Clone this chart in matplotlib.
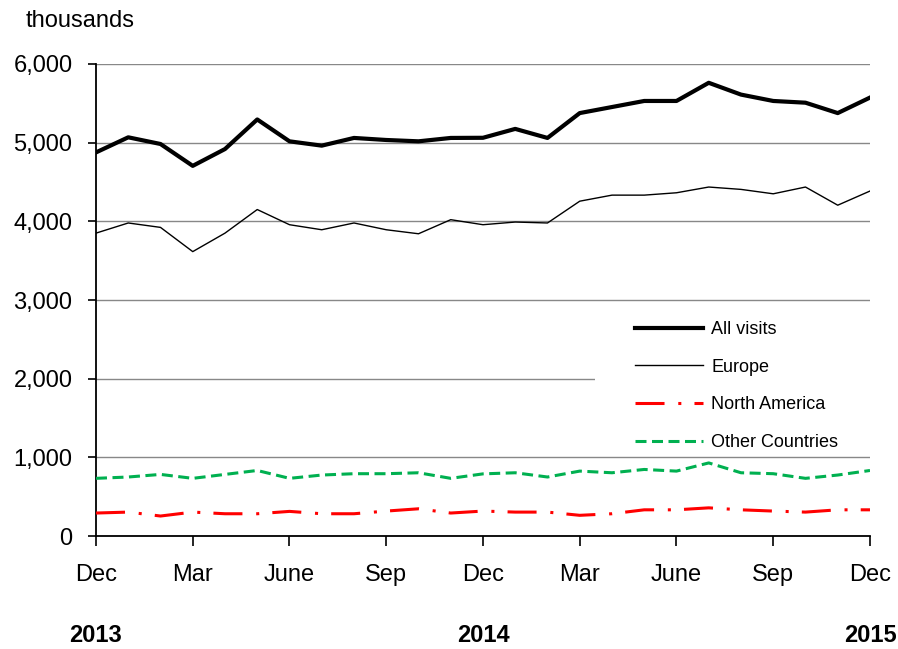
import matplotlib
matplotlib.use("Agg")
import matplotlib.pyplot as plt
from matplotlib.patches import Rectangle

plt.rcParams['font.family'] = ['Liberation Sans', 'DejaVu Sans']

# Monthly visits (thousands), Dec 2013 - Dec 2015
months = ["Dec", "Jan", "Feb", "Mar", "Apr", "May", "June", "Jul", "Aug", "Sep", "Oct", "Nov",
          "Dec", "Jan", "Feb", "Mar", "Apr", "May", "June", "Jul", "Aug", "Sep", "Oct", "Nov", "Dec"]
all_visits = [4876, 5068, 4983, 4705, 4919, 5295, 5017, 4962, 5060, 5034, 5017, 5060,
              5062, 5175, 5060, 5376, 5453, 5530, 5530, 5761, 5611, 5530, 5508, 5376, 5573]
europe = [3850, 3979, 3923, 3615, 3850, 4150, 3957, 3893, 3979, 3893, 3842, 4021,
          3957, 3991, 3979, 4256, 4333, 4333, 4363, 4436, 4406, 4350, 4436, 4205, 4385]
north_america = [292, 304, 254, 304, 283, 283, 313, 283, 283, 317, 346, 292,
                 317, 304, 304, 263, 283, 333, 333, 358, 333, 317, 304, 333, 333]
other_countries = [733, 750, 783, 733, 783, 833, 733, 775, 792, 792, 804, 733,
                   790, 804, 750, 825, 804, 846, 825, 929, 804, 792, 733, 775, 833]
years = ["2013", "2014", "2015"]

x = list(range(len(months)))

fig = plt.figure(figsize=(8.98, 6.49), dpi=100)
ax = fig.add_axes([0.1069, 0.1741, 0.8619, 0.7273])

ax.plot(x, all_visits, color="black", lw=3, label="All visits", zorder=3)
ax.plot(x, europe, color="black", lw=1, label="Europe", zorder=3)
ax.plot(x, north_america, color="#ff0000", lw=2.2, linestyle=(0, (9.5, 4.5, 1, 4.3)),
        label="North America", zorder=3)
ax.plot(x, other_countries, color="#00b050", lw=2.2, linestyle=(0, (3.6, 1.8)),
        label="Other Countries", zorder=3)

ax.set_xlim(0, 24)
ax.set_ylim(0, 6000)
ax.set_yticks(range(0, 6001, 1000))
ax.set_yticklabels([f"{v:,}" for v in range(0, 6001, 1000)])
ax.set_xticks(x[::3])
ax.set_xticklabels(months[::3])
ax.yaxis.grid(True, color="#888888", lw=1)
ax.set_axisbelow(True)

for side in ["top", "right"]:
    ax.spines[side].set_visible(False)
for side in ["left", "bottom"]:
    ax.spines[side].set_linewidth(1.3)
ax.tick_params(axis="y", direction="out", length=6, width=1.2, pad=11, labelsize=17)
ax.tick_params(axis="x", direction="out", length=7, width=1.2, pad=13, labelsize=17)

# white box behind the legend (hides the gridline there)
ax.add_patch(Rectangle((0.645, 0.18), 0.36, 0.295, transform=ax.transAxes,
                       facecolor="white", edgecolor="none", zorder=1, clip_on=False))
ax.legend(loc="upper left", bbox_to_anchor=(0.675, 0.49), frameon=False, fontsize=13,
          handlelength=3.8, handletextpad=0.45, labelspacing=1.15)

# year labels under the month ticks
for xi, yr in zip([0, 12, 24], years):
    ax.text(xi, -0.21, yr, transform=ax.get_xaxis_transform(), ha="center", va="center",
            fontsize=17, fontweight="bold")

fig.text(0.028, 0.968, "thousands", fontsize=17, va="center", ha="left")

fig.savefig("out.png", dpi=100)
